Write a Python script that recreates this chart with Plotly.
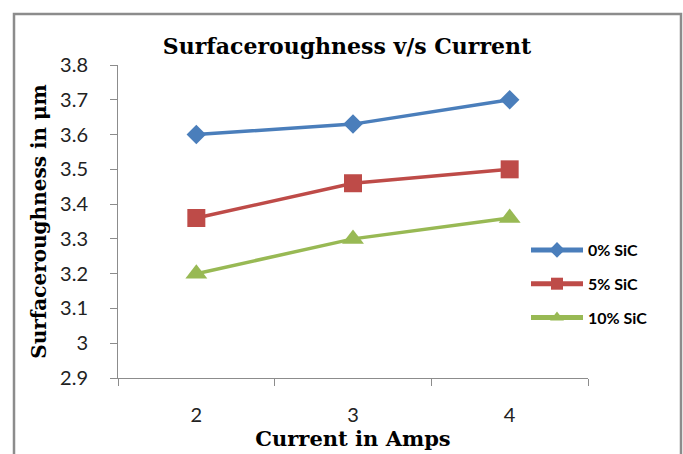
import plotly.graph_objects as go

currents = ["2", "3", "4"]
sic0 = [3.60, 3.63, 3.70]
sic5 = [3.36, 3.46, 3.50]
sic10 = [3.20, 3.30, 3.36]
series_names = ["0% SiC", "5% SiC", "10% SiC"]
colors = ["#4a7ebb", "#be4b48", "#98b954"]
symbols = ["diamond", "square", "triangle-up"]
marker_sizes = [15, 18, 19]
y_ticks = [2.9, 3.0, 3.1, 3.2, 3.3, 3.4, 3.5, 3.6, 3.7, 3.8]
y_ticktext = ["2.9", "3", "3.1", "3.2", "3.3", "3.4", "3.5", "3.6", "3.7", "3.8"]

fig = go.Figure()
for i, (name, vals) in enumerate(zip(series_names, [sic0, sic5, sic10])):
    fig.add_trace(go.Scatter(
        x=currents, y=vals, name=name, mode="lines+markers",
        line=dict(color=colors[i], width=3.5),
        marker=dict(symbol=symbols[i], size=marker_sizes[i], color=colors[i]),
        legendgroup=name,
    ))

W, H = 683, 454
L, R, T, B = 118, 95, 65, 76
pw, ph = W - L - R, H - T - B

def px(x):
    return (x - L) / pw

def py(y):
    return (H - B - y) / ph

fig.add_shape(type="rect", xref="paper", yref="paper",
              x0=px(14), x1=px(681), y0=py(470), y1=py(14),
              line=dict(color="#8c8c8c", width=2.5), fillcolor="rgba(0,0,0,0)", layer="below")

fig.update_layout(
    width=W, height=H,
    margin=dict(l=L, r=R, t=T, b=B),
    paper_bgcolor="white", plot_bgcolor="white",
    title=dict(text="<b>Surfaceroughness v/s Current</b>", xref="paper", x=px(347), xanchor="center",
               yref="container", y=1 - 46 / H, yanchor="middle",
               font=dict(family="DejaVu Serif", size=22, color="black")),
    showlegend=True,
    legend=dict(x=px(526), xanchor="left", yref="paper", y=py(233), yanchor="top",
                font=dict(family="Lato", size=16, color="black", weight="bold"),
                bgcolor="rgba(0,0,0,0)", itemwidth=52, tracegroupgap=10,
                traceorder="grouped", itemsizing="constant"),
    xaxis=dict(type="category", range=[-0.5, 2.5], showline=True, linecolor="#8c8c8c", linewidth=1,
               ticks="outside", tickson="boundaries", ticklen=7, tickcolor="#8c8c8c",
               showgrid=False, zeroline=False, ticklabelstandoff=19,
               tickfont=dict(family="Lato", size=20, color="#222"),
               title=dict(text="<b>Current in Amps</b>", standoff=0,
                          font=dict(family="DejaVu Serif", size=21, color="black"))),
    yaxis=dict(range=[2.9, 3.8], tickvals=y_ticks, ticktext=y_ticktext,
               showline=True, linecolor="#8c8c8c", linewidth=1,
               ticks="outside", ticklen=7, tickcolor="#8c8c8c",
               showgrid=False, zeroline=False, ticklabelstandoff=18,
               tickfont=dict(family="Lato", size=20, color="#222"),
               title=dict(text="<b>Surfaceroughness in μm</b>", standoff=8,
                          font=dict(family="DejaVu Serif", size=20, color="black"))),
)

fig.write_html("out.html")
